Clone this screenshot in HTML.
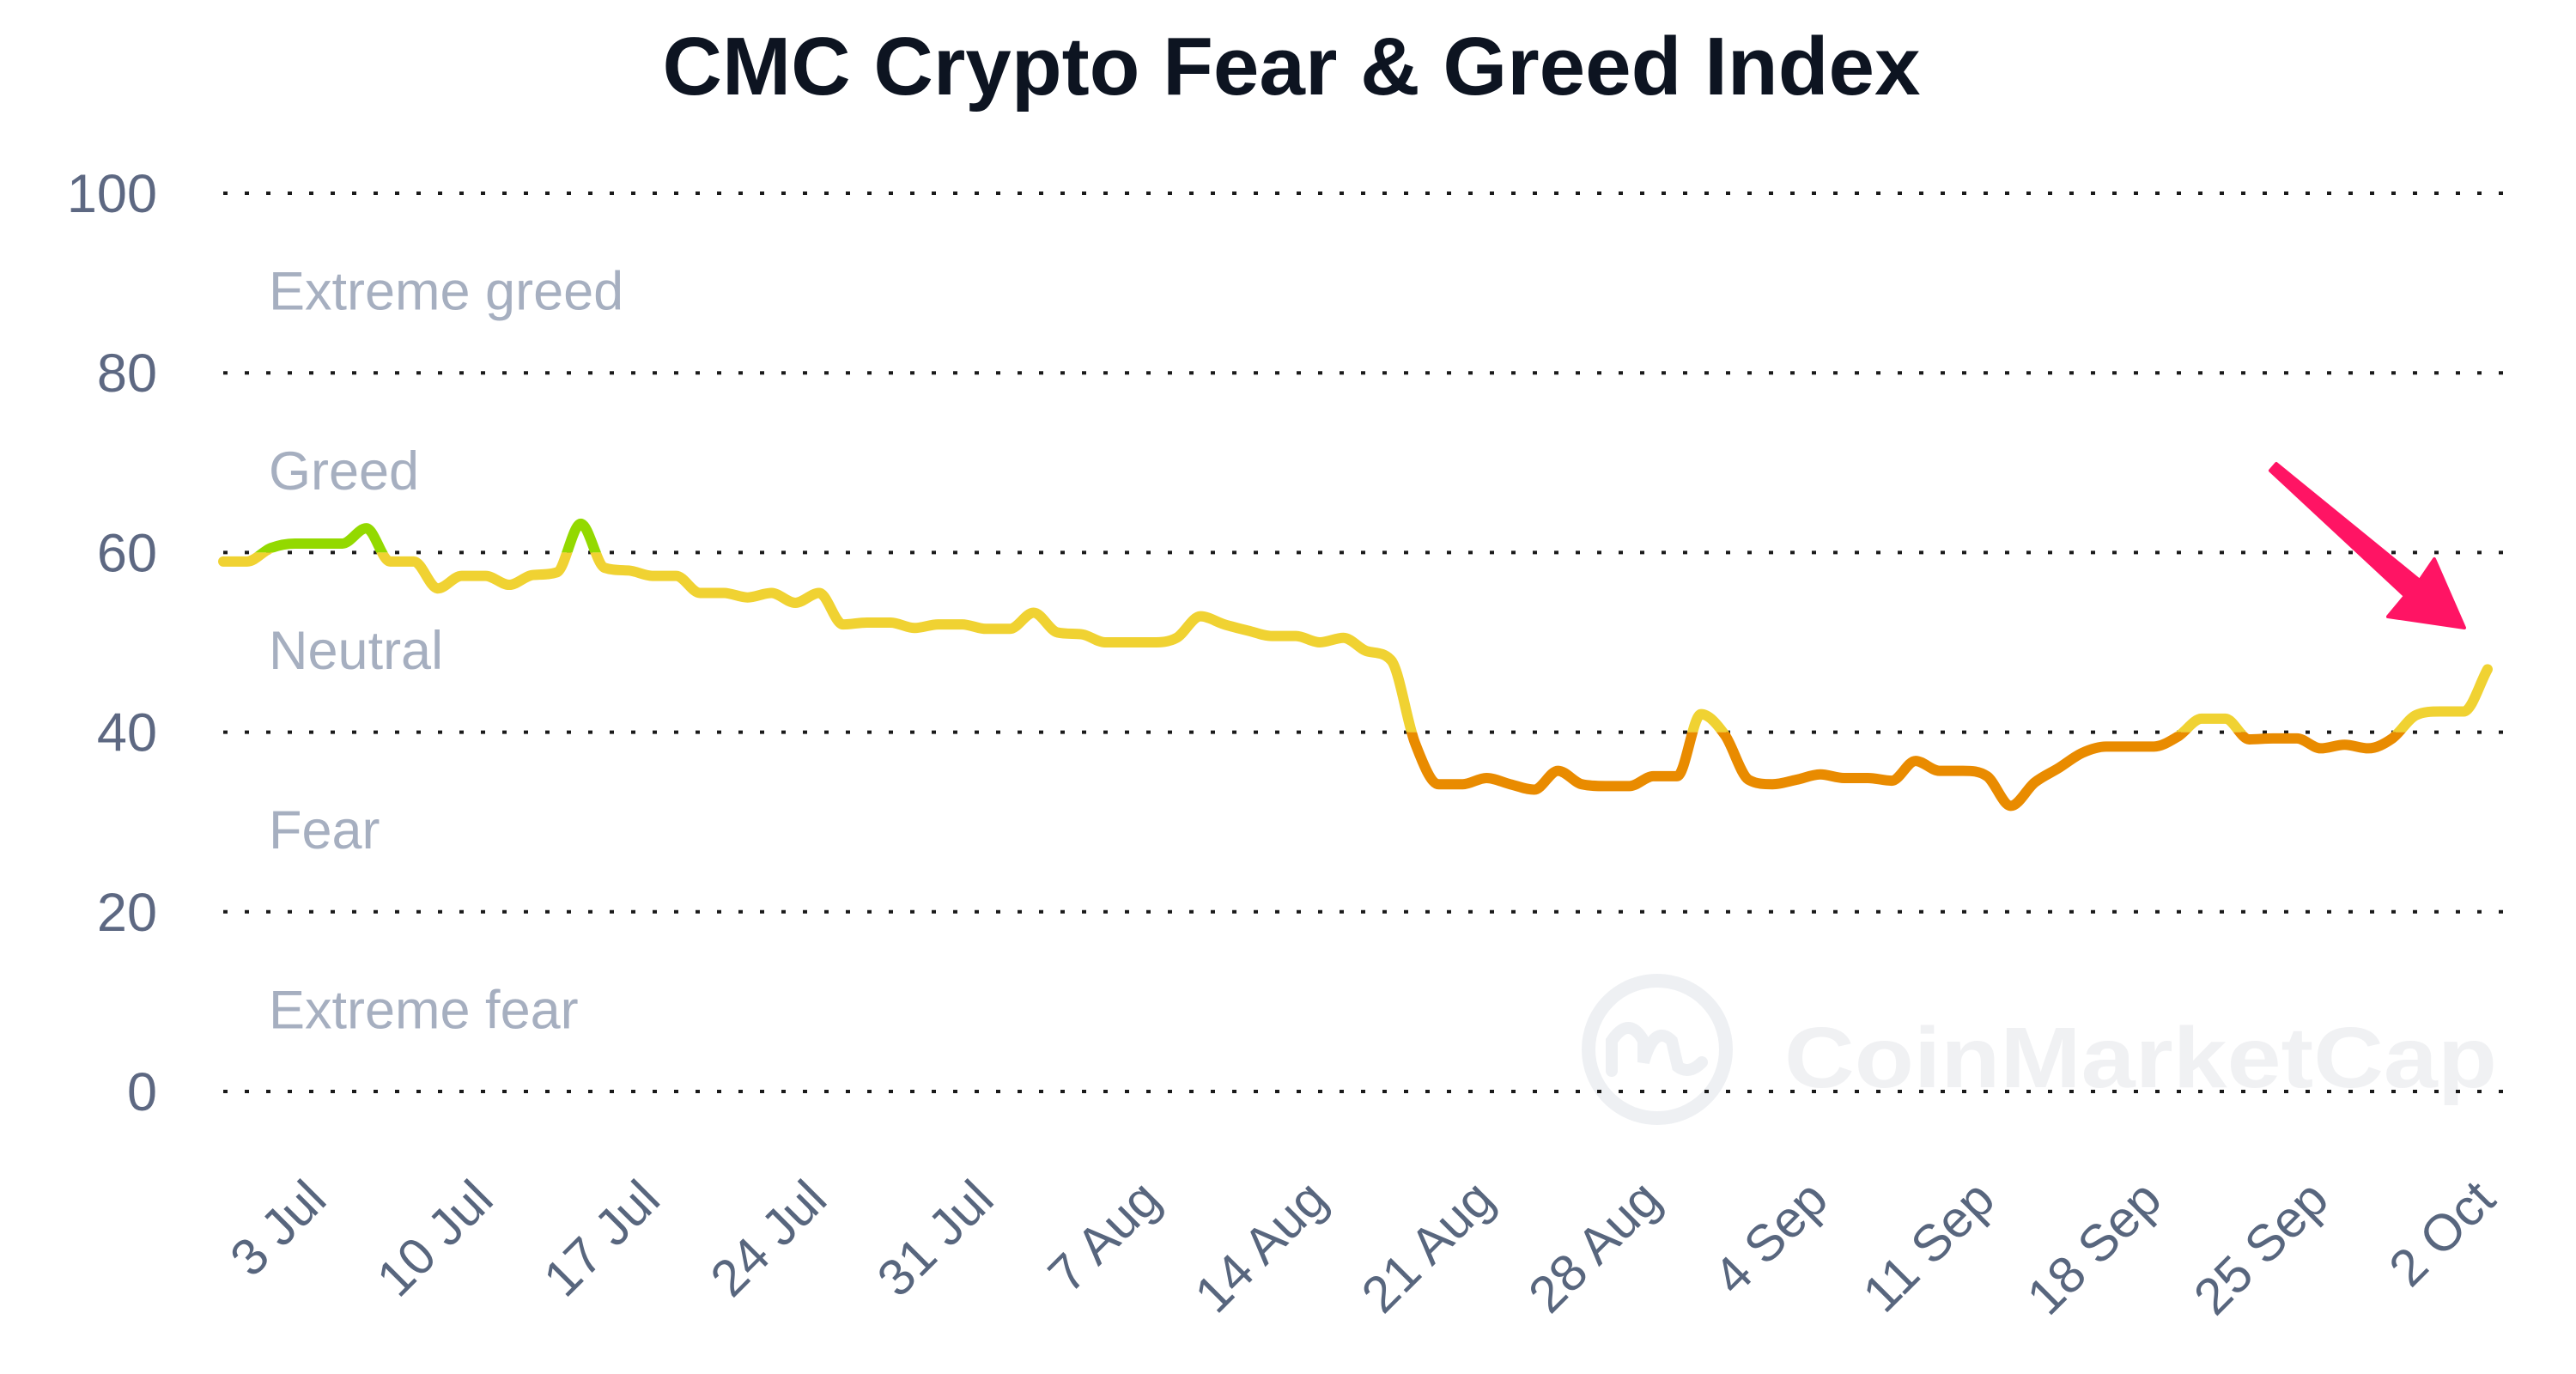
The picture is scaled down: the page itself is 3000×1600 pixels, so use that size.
<!DOCTYPE html>
<html><head><meta charset="utf-8"><style>
html,body{margin:0;padding:0;background:#fff;width:3000px;height:1600px;overflow:hidden}
svg{display:block}
text{font-family:"Liberation Sans",Arial,sans-serif}
</style></head><body>
<svg id="chart" width="3000" height="1600" viewBox="0 0 3000 1600" xmlns="http://www.w3.org/2000/svg">
<text x="1504" y="110" text-anchor="middle" font-size="96" font-weight="bold" fill="#0d1421" textLength="1465" lengthAdjust="spacingAndGlyphs">CMC Crypto Fear &amp; Greed Index</text>
<g>
<circle cx="1930" cy="1222" r="80" fill="none" stroke="#eef0f3" stroke-width="16"/>
<path d="M1877,1247 L1877,1212 Q1897,1182 1914,1212 L1914,1237 Q1927,1192 1947,1212 L1954,1242 Q1967,1252 1982,1237" fill="none" stroke="#eef0f3" stroke-width="14" stroke-linecap="round"/>
<text x="2078" y="1266" font-size="100" font-weight="bold" fill="#f0f1f3" textLength="830" lengthAdjust="spacingAndGlyphs">CoinMarketCap</text>
</g>
<g id="grid"></g>
<g id="bands"></g>
<g id="series"></g>
<g id="xaxis"></g>
<polygon points="2651,540 2818,676 2835,651 2870,731 2781,718 2801,694 2644,548" fill="#ff1464" stroke="#ff1464" stroke-width="4" stroke-linejoin="round"/>
</svg>
<script>
const yTicks=[0,20,40,60,80,100];
const bandLabels=["Extreme fear","Fear","Neutral","Greed","Extreme greed"];
const xTickLabels=["3 Jul","10 Jul","17 Jul","24 Jul","31 Jul","7 Aug","14 Aug","21 Aug","28 Aug","4 Sep","11 Sep","18 Sep","25 Sep","2 Oct"];
const xTickDays=[4,11,18,25,32,39,46,53,60,67,74,81,88,95];
const values=[59,59,60.5,61,61,61,62.7,59,59,56,57.4,57.4,56.4,57.5,57.8,63.2,58.3,58,57.4,57.4,55.5,55.5,55,55.5,54.4,55.5,52,52.2,52.2,51.6,52,52,51.5,51.5,53.3,51.1,50.9,50,50,50,50.5,52.9,52,51.3,50.7,50.7,50,50.5,49,48,38.8,34.2,34.2,34.9,34.2,33.6,35.7,34.2,34,34,35.1,35.1,42,39.7,34.7,34.2,34.7,35.3,34.9,34.9,34.6,36.8,35.7,35.7,35.1,31.8,34.4,36,37.7,38.4,38.4,38.4,39.5,41.5,41.5,39.2,39.3,39.3,38.2,38.6,38.2,39.3,41.9,42.3,42.3,47];
const NS="http://www.w3.org/2000/svg";
const X0=260,X1=2897,Y0=1271,Y100=225;
function xs(d){return X0+(X1-X0)*d/(values.length-1);}
function ys(v){return Y0+(Y100-Y0)*v/100;}
function mk(tag,attrs,parent){const e=document.createElementNS(NS,tag);for(const k in attrs)e.setAttribute(k,attrs[k]);parent.appendChild(e);return e;}
const grid=document.getElementById('grid');
yTicks.forEach(t=>{
  const l=mk('line',{x1:X0,x2:2925,y1:ys(t),y2:ys(t),stroke:'#1a1a1a','stroke-width':4,'stroke-dasharray':'5 20'},grid);
  
  
  const tx=mk('text',{x:183,y:ys(t)+22,'text-anchor':'end','font-size':63,fill:'#5d6882'},grid);
  tx.textContent=t;
  
  
});
const bands=document.getElementById('bands');
bandLabels.forEach((b,i)=>{
  const tx=mk('text',{x:313,y:ys(i*20+10)+31,'font-size':63,fill:'#a6afc0'},bands);
  tx.textContent=b;
  
  
});
const pts=values.map((v,i)=>[xs(i),ys(v)]);
function monotonePath(p){
  const n=p.length,dx=[],dy=[],m=[],t=[];
  for(let i=0;i<n-1;i++){dx[i]=p[i+1][0]-p[i][0];dy[i]=p[i+1][1]-p[i][1];m[i]=dy[i]/dx[i];}
  t[0]=m[0];t[n-1]=m[n-2];
  for(let i=1;i<n-1;i++){t[i]=(m[i-1]*m[i]<=0)?0:(m[i-1]+m[i])/2;}
  for(let i=0;i<n-1;i++){if(m[i]===0){t[i]=0;t[i+1]=0;continue;}const a=t[i]/m[i],b=t[i+1]/m[i],s=a*a+b*b;if(s>9){const k=3/Math.sqrt(s);t[i]=k*a*m[i];t[i+1]=k*b*m[i];}}
  let d='M'+p[0][0]+','+p[0][1];
  for(let i=0;i<n-1;i++){const h=dx[i]/3;d+=' C'+(p[i][0]+h)+','+(p[i][1]+t[i]*h)+' '+(p[i+1][0]-h)+','+(p[i+1][1]-t[i+1]*h)+' '+p[i+1][0]+','+p[i+1][1];}
  return d;
}
const pathD=monotonePath(pts);
const series=document.getElementById('series');
const defs=mk('defs',{},series);
const zones=[[60,100,'#93d900','greed'],[40,60,'#f0d232','neutral'],[20,40,'#e98b00','fear']];
zones.forEach((z,i)=>{
  const cp=mk('clipPath',{id:'cz'+i},defs);
  mk('rect',{x:0,y:ys(z[1]),width:3000,height:ys(z[0])-ys(z[1])},cp);
  const p=mk('path',{d:pathD,fill:'none',stroke:z[2],'stroke-width':12,'stroke-linejoin':'round','stroke-linecap':'round','clip-path':'url(#cz'+i+')'},series);
  
  
});
const xa=document.getElementById('xaxis');
xTickLabels.forEach((lab,i)=>{
  const x=xs(xTickDays[i])+12;
  const tx=mk('text',{x:0,y:0,'text-anchor':'end','font-size':60,fill:'#58667e',transform:'translate('+x+',1400) rotate(-45)'},xa);
  tx.textContent=lab;
  
  
});
</script>
</body></html>
